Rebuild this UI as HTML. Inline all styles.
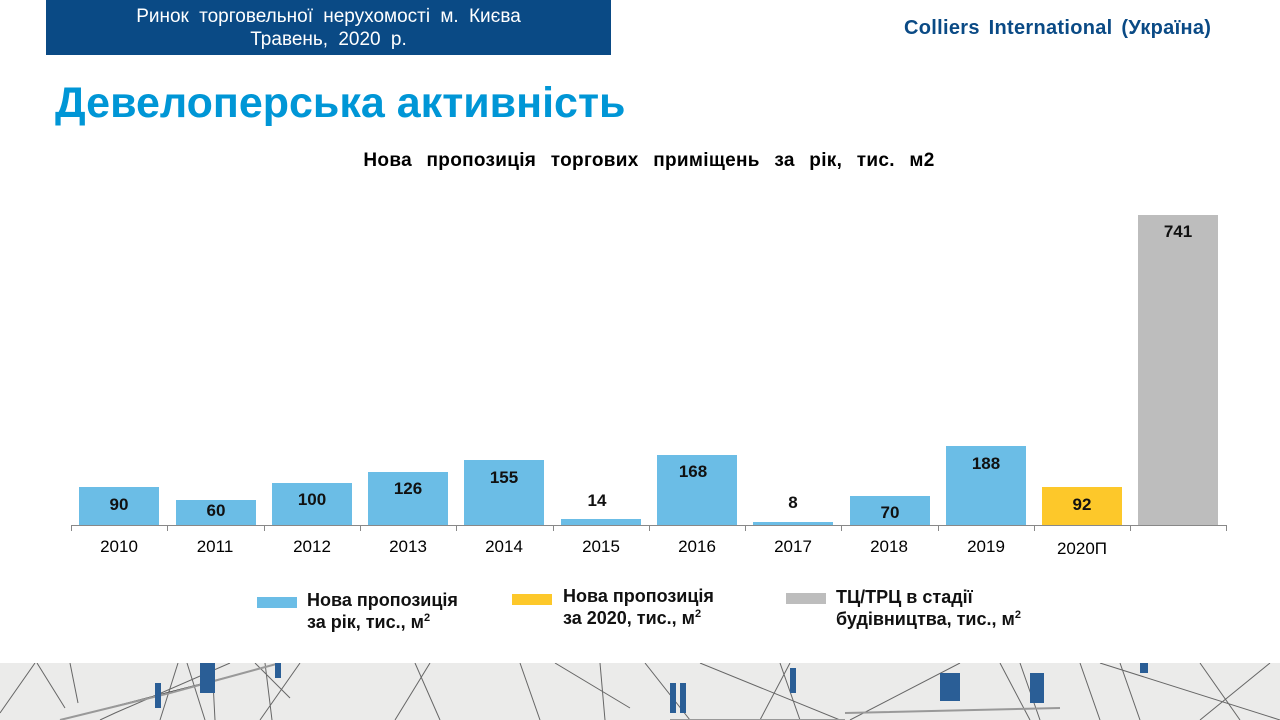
<!DOCTYPE html>
<html><head><meta charset="utf-8"><style>
body{margin:0;width:1280px;height:720px;position:relative;overflow:hidden;background:#fff;font-family:"Liberation Sans",Arial,sans-serif;}
.a{position:absolute;}
.hdr{left:46px;top:0;width:565px;height:55px;background:#0a4a85;color:#fff;font-size:19px;text-align:center;line-height:23px;padding-top:5px;box-sizing:border-box;word-spacing:5px}
.col{left:904px;top:17px;font-size:20px;font-weight:bold;color:#0a4a85;word-spacing:3px;letter-spacing:0.3px}
.title{left:55px;top:79px;font-size:43px;font-weight:bold;color:#0096d6;white-space:nowrap;letter-spacing:0px}
.ct{left:0;width:1298px;top:150px;text-align:center;font-size:19px;font-weight:bold;word-spacing:9px;letter-spacing:0.3px}
.bar{position:absolute;width:80px;}
.lab{position:absolute;width:80px;text-align:center;font-size:17px;font-weight:bold;color:#111}
.yr{position:absolute;width:96px;text-align:center;font-size:17px;top:537px}
.leg{font-family:"Liberation Sans Narrow","Liberation Sans",sans-serif;font-size:18px;font-weight:bold;line-height:22px;color:#111}
.sw{position:absolute;width:40px;height:11px}
sup{font-size:11px;line-height:0}
</style></head><body>
<div class="a hdr">Ринок торговельної нерухомості м. Києва<br>Травень, 2020 р.</div>
<div class="a col">Colliers International (Україна)</div>
<div class="a title">Девелоперська активність</div>
<div class="a ct">Нова пропозиція торгових приміщень за рік, тис. м2</div>

<svg class="a" style="left:0;top:0" width="1280" height="720">
<line x1="71" y1="525.5" x2="1227" y2="525.5" stroke="#888" stroke-width="1"/>
<g stroke="#888">
<line x1="71.5" y1="525" x2="71.5" y2="531"/><line x1="167.5" y1="525" x2="167.5" y2="531"/><line x1="264.5" y1="525" x2="264.5" y2="531"/><line x1="360.5" y1="525" x2="360.5" y2="531"/><line x1="456.5" y1="525" x2="456.5" y2="531"/><line x1="553.5" y1="525" x2="553.5" y2="531"/><line x1="649.5" y1="525" x2="649.5" y2="531"/><line x1="745.5" y1="525" x2="745.5" y2="531"/><line x1="841.5" y1="525" x2="841.5" y2="531"/><line x1="938.5" y1="525" x2="938.5" y2="531"/><line x1="1034.5" y1="525" x2="1034.5" y2="531"/><line x1="1130.5" y1="525" x2="1130.5" y2="531"/><line x1="1226.5" y1="525" x2="1226.5" y2="531"/>
</g>
</svg>

<div class="bar" style="left:79px;top:487px;height:38px;background:#6bbde6"></div>
<div class="bar" style="left:176px;top:500px;height:25px;background:#6bbde6"></div>
<div class="bar" style="left:272px;top:483px;height:42px;background:#6bbde6"></div>
<div class="bar" style="left:368px;top:472px;height:53px;background:#6bbde6"></div>
<div class="bar" style="left:464px;top:460px;height:65px;background:#6bbde6"></div>
<div class="bar" style="left:561px;top:519px;height:6px;background:#6bbde6"></div>
<div class="bar" style="left:657px;top:455px;height:70px;background:#6bbde6"></div>
<div class="bar" style="left:753px;top:522px;height:3px;background:#6bbde6"></div>
<div class="bar" style="left:850px;top:496px;height:29px;background:#6bbde6"></div>
<div class="bar" style="left:946px;top:446px;height:79px;background:#6bbde6"></div>
<div class="bar" style="left:1042px;top:487px;height:38px;background:#fdc82a"></div>
<div class="bar" style="left:1138px;top:215px;height:310px;background:#bdbdbd"></div>

<div class="lab" style="left:79px;top:495px">90</div>
<div class="lab" style="left:176px;top:501px">60</div>
<div class="lab" style="left:272px;top:490px">100</div>
<div class="lab" style="left:368px;top:479px">126</div>
<div class="lab" style="left:464px;top:468px">155</div>
<div class="lab" style="left:557px;top:491px">14</div>
<div class="lab" style="left:653px;top:462px">168</div>
<div class="lab" style="left:753px;top:493px">8</div>
<div class="lab" style="left:850px;top:503px">70</div>
<div class="lab" style="left:946px;top:454px">188</div>
<div class="lab" style="left:1042px;top:495px">92</div>
<div class="lab" style="left:1138px;top:222px">741</div>

<div class="yr" style="left:71px">2010</div>
<div class="yr" style="left:167px">2011</div>
<div class="yr" style="left:264px">2012</div>
<div class="yr" style="left:360px">2013</div>
<div class="yr" style="left:456px">2014</div>
<div class="yr" style="left:553px">2015</div>
<div class="yr" style="left:649px">2016</div>
<div class="yr" style="left:745px">2017</div>
<div class="yr" style="left:841px">2018</div>
<div class="yr" style="left:938px">2019</div>
<div class="yr" style="left:1034px;top:539px">2020П</div>

<div class="sw" style="left:257px;top:597px;background:#6bbde6"></div>
<div class="a leg" style="left:307px;top:589px">Нова пропозиція<br>за рік, тис., м<sup>2</sup></div>
<div class="sw" style="left:512px;top:594px;background:#fdc82a"></div>
<div class="a leg" style="left:563px;top:585px">Нова пропозиція<br>за 2020, тис., м<sup>2</sup></div>
<div class="sw" style="left:786px;top:593px;background:#bdbdbd"></div>
<div class="a leg" style="left:836px;top:586px">ТЦ/ТРЦ в стадії<br>будівництва, тис., м<sup>2</sup></div>

<svg class="a" style="left:0;top:663px" width="1280" height="57">
<rect width="1280" height="57" fill="#ebebea"/>
<g stroke="#666" stroke-width="1" fill="none">
<path d="M0 50 L35 0 M37 0 L65 45 M100 57 L115 50 L230 0 M70 0 L78 40 M160 57 L178 0 M187 0 L205 57 M212 0 L215 57 M260 57 L300 0 M395 57 L430 0 M415 0 L440 57 M520 0 L540 57 M600 0 L605 57 M645 0 L690 57 M265 0 L272 57 M255 0 L290 35 M555 0 L630 45 M780 0 L800 57 M790 0 L760 57 M700 0 L840 57 M850 57 L960 0 M1000 0 L1030 57 M1020 0 L1040 57 M1080 0 L1100 57 M1120 0 L1140 57 M1100 0 L1280 57 M1200 57 L1270 0 M1200 0 L1240 57"/>
</g>
<g stroke="#999" stroke-width="2"><path d="M60 57 L170 30 L280 0 M670 57 L845 57 M845 50 L1060 45"/></g>
<g fill="#2a5e96"><rect x="155" y="20" width="6" height="25"/><rect x="275" y="0" width="6" height="15"/><rect x="200" y="0" width="15" height="30"/><rect x="670" y="20" width="6" height="30"/><rect x="680" y="20" width="6" height="30"/><rect x="790" y="5" width="6" height="25"/><rect x="940" y="10" width="20" height="28"/><rect x="1030" y="10" width="14" height="30"/><rect x="1140" y="0" width="8" height="10"/></g>
</svg>
</body></html>
